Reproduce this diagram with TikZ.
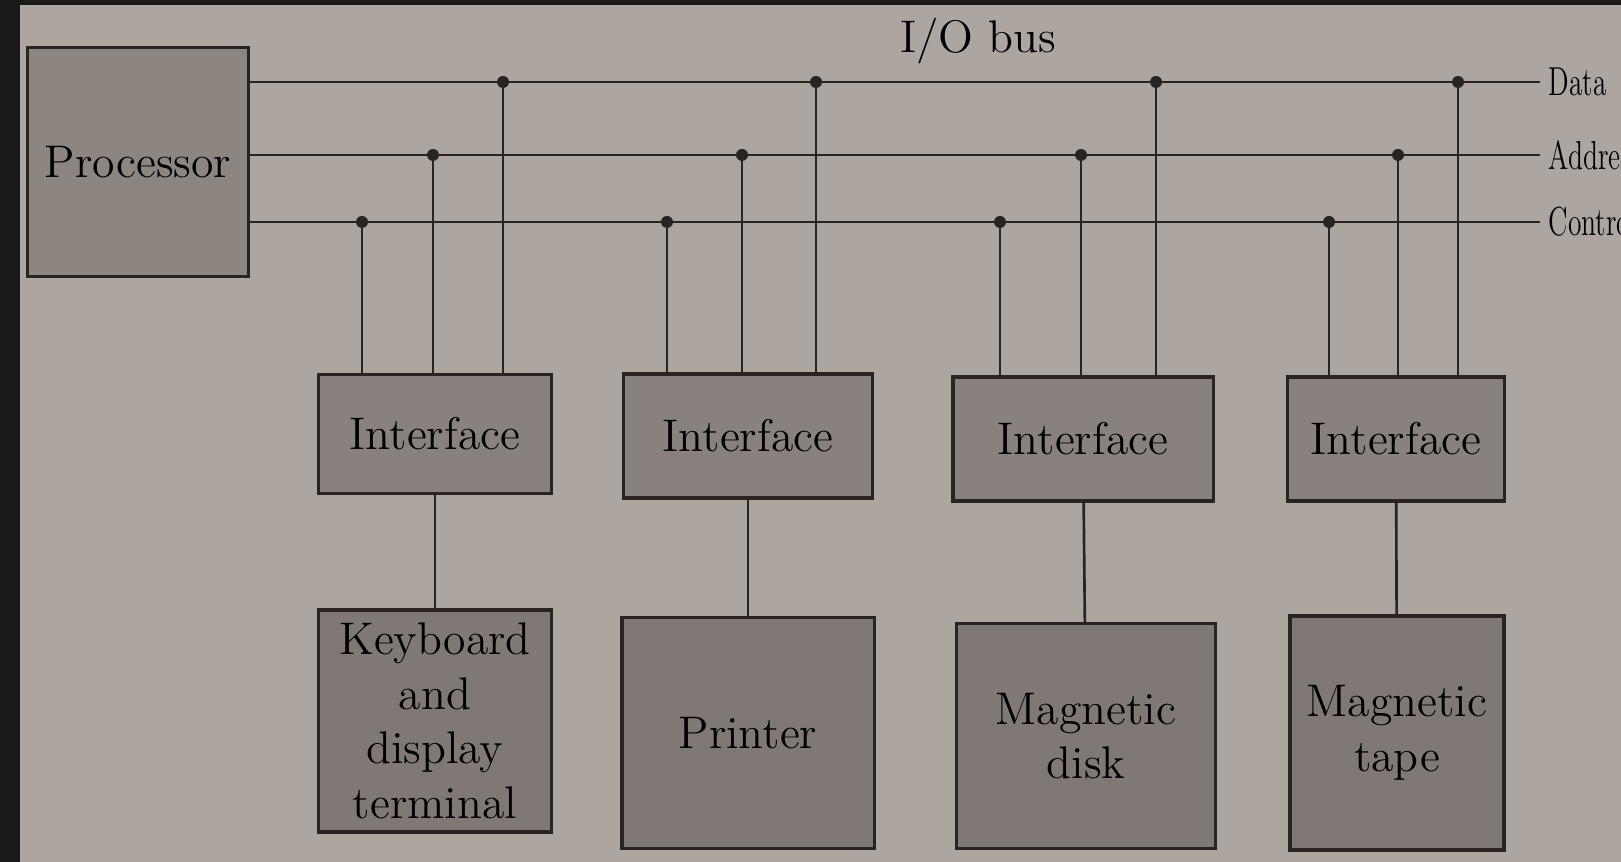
\documentclass[tikz,border=0pt]{standalone}
\usepackage{graphicx}
\usetikzlibrary{positioning}
\definecolor{paper}{RGB}{172,165,160}
\definecolor{boxgray}{RGB}{136,129,125}
\definecolor{devgray}{RGB}{127,120,116}
\definecolor{procgray}{RGB}{140,133,128}
\definecolor{ink}{RGB}{40,36,34}
\begin{document}
\begin{tikzpicture}[x=0.01cm,y=-0.01cm,font=\fontsize{13}{15.5}\selectfont]
\tikzstyle{blk}=[draw=ink,line width=0.9pt,fill=boxgray,inner sep=2pt,align=center]
\tikzstyle{wire}=[ink,line width=0.75pt]
\tikzstyle{jn}=[circle,fill=ink,inner sep=0pt,minimum size=0.12cm]
\useasboundingbox (0,0) rectangle (1621,862);
\fill[paper] (0,0) rectangle (1621,862);
\fill[black!90] (0,0) rectangle (20,862);
\fill[black!90] (0,0) rectangle (1621,5);
% processor and bus
\node[blk,fill=procgray,minimum width=2.21cm,minimum height=2.29cm] (proc) at (138,162) {Processor};
\node (iobus) at (978,41) {I/O bus};
\foreach \n/\y/\t in {d/82/Data,a/155/Address,c/222/Control} {
  \coordinate (\n0) at (proc.east |- 0,\y);
  \coordinate (\n9) at (1540,\y);
  \draw[wire] (\n0) -- (\n9);
  \node[anchor=west,inner sep=0pt,font=\fontsize{11.5}{13}\selectfont] (\n lbl) at (1548,\y) {\scalebox{0.68}[1]{\t}};
}
% interfaces
\node[blk,minimum width=2.33cm,minimum height=1.19cm] (if1) at (435,434) {Interface};
\node[blk,minimum width=2.49cm,minimum height=1.24cm] (if2) at (748,436) {Interface};
\node[blk,minimum width=2.60cm,minimum height=1.24cm] (if3) at (1083,439) {Interface};
\node[blk,minimum width=2.17cm,minimum height=1.24cm] (if4) at (1396,439) {Interface};
% devices
\node[blk,fill=devgray,minimum width=2.33cm,minimum height=2.22cm] (dv1) at (435,721) {Keyboard\\and\\display\\terminal};
\node[blk,fill=devgray,minimum width=2.52cm,minimum height=2.31cm] (dv2) at (748,733) {Printer};
\node[blk,fill=devgray,minimum width=2.59cm,minimum height=2.25cm] (dv3) at (1086,736) {Magnetic\\disk};
\node[blk,fill=devgray,minimum width=2.14cm,minimum height=2.34cm] (dv4) at (1397,733) {Magnetic\\tape};
% taps from the bus
\foreach \i/\xc/\xa/\xd in {1/362/433/503,2/667/742/816,3/1000/1081/1156,4/1329/1398/1458} {
  \coordinate (c\i) at (\xc,222);
  \coordinate (a\i) at (\xa,155);
  \coordinate (d\i) at (\xd,82);
  \draw[wire] (c\i) -- (c\i |- if\i.north);
  \draw[wire] (a\i) -- (a\i |- if\i.north);
  \draw[wire] (d\i) -- (d\i |- if\i.north);
  \node[jn] at (c\i) {};
  \node[jn] at (a\i) {};
  \node[jn] at (d\i) {};
  \draw[wire] (if\i) -- (dv\i);
}
\end{tikzpicture}
\end{document}
